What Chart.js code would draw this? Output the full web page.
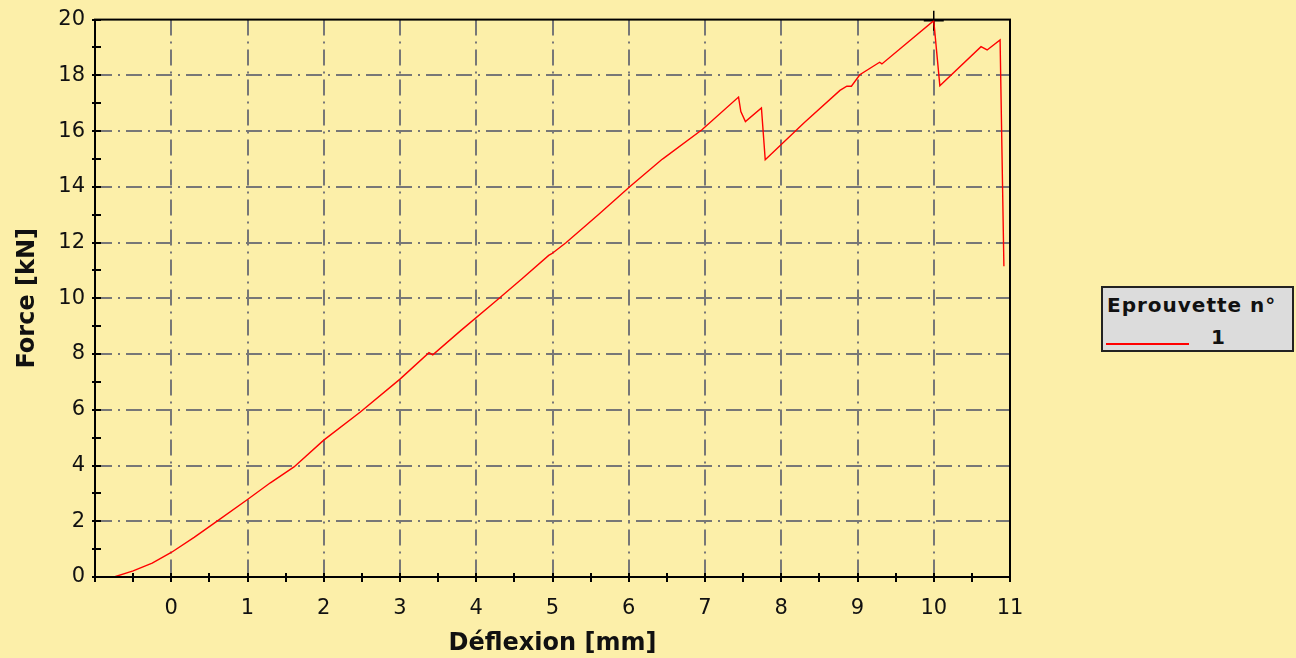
<!DOCTYPE html>
<html>
<head>
<meta charset="utf-8">
<script src="https://cdn.jsdelivr.net/npm/chart.js@4.4.0/dist/chart.umd.min.js"></script>
<style>
  html, body { margin: 0; padding: 0; background: #fcefa9; }
  #wrap { position: relative; width: 1296px; height: 658px; }
  #legend {
    position: absolute; left: 1101px; top: 286px; width: 189px; height: 62px;
    background: #dcdcdc; border: 2px solid #222;
    font-family: "DejaVu Sans", sans-serif; font-weight: bold; color: #111;
  }
  #legend .head { position: absolute; left: 4px; top: 5px; font-size: 20px; letter-spacing: 1px; }
  #legend .line { position: absolute; left: 3px; top: 55px; width: 83px; height: 2px; background: #ff0000; }
  #legend .name { position: absolute; left: 108px; top: 37px; font-size: 20px; }
</style>
</head>
<body>
<div id="wrap">
  <canvas id="chart" width="1296" height="658"></canvas>
  <div id="legend">
    <div class="head">Eprouvette n°</div>
    <div class="line"></div>
    <div class="name">1</div>
  </div>
</div>
<script>
// courbe force / déflexion
const deflexion = [-0.75, -0.5, -0.25, 0, 0.3, 0.62, 1, 1.3, 1.61, 2, 2.48, 3, 3.38, 3.43, 3.8, 4.27, 4.6, 4.95, 4.99, 5.18, 5.6, 6.02, 6.43, 6.46, 6.96, 7.44, 7.47, 7.53, 7.74, 7.79, 8.3, 8.77, 8.86, 8.92, 9.03, 9.29, 9.32, 10.0, 10.08, 10.62, 10.70, 10.87, 10.92];
const force = [0, 0.22, 0.5, 0.88, 1.42, 2.04, 2.78, 3.38, 3.95, 4.91, 5.92, 7.1, 8.05, 7.97, 8.85, 9.93, 10.7, 11.54, 11.6, 12.0, 13.0, 14.02, 14.97, 15.03, 16.05, 17.22, 16.7, 16.34, 16.83, 14.97, 16.3, 17.46, 17.61, 17.61, 18.02, 18.47, 18.41, 19.96, 17.63, 19.03, 18.91, 19.27, 11.15];

// point maximum (croix)
const peakX = [10.0];
const peakY = [19.96];

const xMin = -1, xMax = 11, xStep = 0.5;
const yMin = 0, yMax = 20, yStep = 1;

const BG = '#fcefa9';
const GRID = '#777777';

const curve = deflexion.map((x, i) => ({ x: x, y: force[i] }));
const peak = peakX.map((x, i) => ({ x: x, y: peakY[i] }));

const isInt = (v) => Math.abs(v - Math.round(v)) < 1e-6;

const decor = {
  id: 'decor',
  beforeDraw(chart) {
    const ctx = chart.ctx;
    ctx.save();
    ctx.fillStyle = BG;
    ctx.fillRect(0, 0, chart.width, chart.height);
    ctx.restore();
  },
  afterDraw(chart) {
    const ctx = chart.ctx;
    const a = chart.chartArea;
    const xs = chart.scales.x;
    const ys = chart.scales.y;
    ctx.save();
    ctx.strokeStyle = '#000';
    ctx.lineWidth = 2;
    // partie intérieure des graduations
    xs.ticks.forEach((t) => {
      const px = Math.round(xs.getPixelForValue(t.value));
      ctx.beginPath();
      ctx.moveTo(px, a.bottom);
      ctx.lineTo(px, a.bottom - 4);
      ctx.stroke();
    });
    ys.ticks.forEach((t) => {
      const py = Math.round(ys.getPixelForValue(t.value));
      ctx.beginPath();
      ctx.moveTo(a.left, py);
      ctx.lineTo(a.left + 6, py);
      ctx.stroke();
    });
    ctx.strokeRect(a.left, a.top, a.right - a.left, a.bottom - a.top);
    ctx.restore();
  }
};

new Chart(document.getElementById('chart').getContext('2d'), {
  type: 'line',
  data: {
    datasets: [
      {
        label: '1',
        data: curve,
        borderColor: '#ff0000',
        borderWidth: 1.4,
        pointRadius: 0,
        tension: 0,
        fill: false
      },
      {
        label: 'max',
        data: peak,
        showLine: false,
        pointStyle: 'cross',
        pointRadius: 10,
        pointBorderColor: '#000',
        pointBorderWidth: 1.5,
        clip: false
      }
    ]
  },
  options: {
    responsive: false,
    animation: false,
    events: [],
    layout: { padding: { top: 19, right: 286, left: 0, bottom: 0 } },
    plugins: { legend: { display: false }, tooltip: { enabled: false } },
    scales: {
      x: {
        type: 'linear',
        min: xMin,
        max: xMax,
        afterFit: (s) => { s.height = 81; },
        ticks: {
          stepSize: xStep,
          autoSkip: false,
          maxRotation: 0,
          padding: 14,
          color: '#111',
          font: { family: 'DejaVu Sans', size: 21 },
          callback: (v) => (isInt(v) && v >= 0 ? String(Math.round(v)) : '')
        },
        grid: {
          color: (c) => (c.tick && isInt(c.tick.value) && c.tick.value > xMin && c.tick.value < xMax ? GRID : 'rgba(0,0,0,0)'),
          lineWidth: 2,
          tickColor: '#000',
          tickLength: 5,
          tickWidth: 2
        },
        border: { display: true, color: '#000', width: 2, dash: [16, 6, 2, 6] },
        title: {
          display: true,
          text: 'Déflexion [mm]',
          color: '#111',
          font: { family: 'DejaVu Sans', size: 24, weight: 'bold' },
          padding: { top: 0, bottom: 0 }
        }
      },
      y: {
        type: 'linear',
        min: yMin,
        max: yMax,
        afterFit: (s) => { s.width = 95; },
        ticks: {
          stepSize: yStep,
          autoSkip: false,
          padding: 7,
          color: '#111',
          font: { family: 'DejaVu Sans', size: 21 },
          callback: (v) => (Math.round(v) % 2 === 0 ? String(Math.round(v)) : '')
        },
        grid: {
          color: (c) => (c.tick && Math.round(c.tick.value) % 2 === 0 && c.tick.value > yMin && c.tick.value < yMax ? GRID : 'rgba(0,0,0,0)'),
          lineWidth: 2,
          tickColor: '#000',
          tickLength: 3,
          tickWidth: 2
        },
        border: { display: true, color: '#000', width: 2, dash: [16, 6, 2, 6] },
        title: {
          display: true,
          text: 'Force [kN]',
          color: '#111',
          font: { family: 'DejaVu Sans', size: 24, weight: 'bold' },
          padding: { top: 13, bottom: 0 }
        }
      }
    }
  },
  plugins: [decor]
});
</script>
</body>
</html>
